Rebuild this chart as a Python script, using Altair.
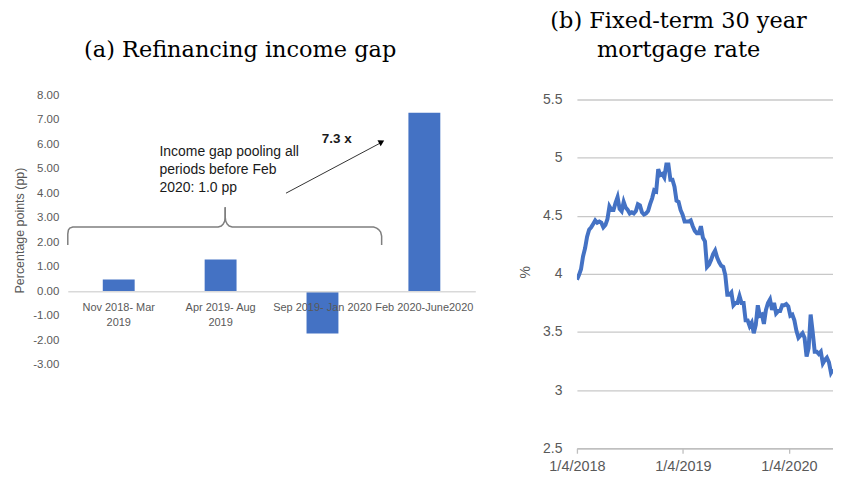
import altair as alt
import pandas as pd

# ---------------- data ----------------
periods = ["Nov 2018- Mar\n2019", "Apr 2019- Aug\n2019", "Sep 2019- Jan 2020", "Feb 2020-June2020"]
gap_pp = [0.48, 1.30, -1.73, 7.30]
gap_ticks = [-3, -2, -1, 0, 1, 2, 3, 4, 5, 6, 7, 8]

first_week = "2018-01-04"
rate_2018 = [3.95, 3.99, 4.04, 4.15, 4.22, 4.32, 4.38, 4.40, 4.43, 4.46, 4.44, 4.45, 4.44,
             4.40, 4.42, 4.47, 4.58, 4.55, 4.55, 4.61, 4.66, 4.56, 4.54, 4.62, 4.57, 4.55,
             4.52, 4.53, 4.52, 4.54, 4.60, 4.59, 4.53, 4.51, 4.52, 4.54, 4.60, 4.65, 4.72,
             4.71, 4.90, 4.85, 4.86, 4.83, 4.94, 4.94, 4.81, 4.81, 4.75, 4.63, 4.62, 4.55]
rate_2019 = [4.51, 4.45, 4.45, 4.45, 4.46, 4.41, 4.37, 4.35, 4.35, 4.41, 4.31, 4.28, 4.06,
             4.08, 4.12, 4.17, 4.20, 4.14, 4.10, 4.07, 4.06, 3.99, 3.82, 3.82, 3.84, 3.73,
             3.75, 3.75, 3.81, 3.75, 3.75, 3.60, 3.60, 3.55, 3.58, 3.49, 3.56, 3.73, 3.64,
             3.65, 3.57, 3.69, 3.75, 3.78, 3.69, 3.75, 3.66, 3.68, 3.68, 3.73, 3.73, 3.74]
rate_2020 = [3.72, 3.64, 3.65, 3.60, 3.51, 3.45, 3.47, 3.49, 3.45, 3.29, 3.36, 3.65, 3.50,
             3.33, 3.33, 3.31, 3.33, 3.23, 3.26, 3.28, 3.24, 3.15, 3.18]
rate_ticks = [2.5, 3, 3.5, 4, 4.5, 5, 5.5]
date_ticks = [(2018, 1, 4), (2019, 1, 4), (2020, 1, 4)]

rates = rate_2018 + rate_2019 + rate_2020
dates = pd.date_range(first_week, periods=len(rates), freq="7D").strftime("%Y-%m-%d")

bar_df = pd.DataFrame({"period": periods, "gap": gap_pp})
rate_df = pd.DataFrame({"date": list(dates), "rate": rates})
one = pd.DataFrame({"k": [0]})

# annotation geometry (pixels, relative to the left plot area)
brace_pts = [
    (0, 150), (0, 139), (0.6, 135), (2, 133), (5, 132), (151, 132), (154, 131), (156, 129),
    (157.5, 126), (158, 122), (158, 112),
    (158, 112), (158, 122), (158.5, 126), (160, 129), (162, 131), (165, 132), (307, 132),
    (310, 133), (312, 134.5), (314, 137), (315, 141), (315, 150),
]
brace_df = pd.DataFrame({
    "px": [p[0] for p in brace_pts],
    "py": [p[1] for p in brace_pts],
    "o": list(range(len(brace_pts))),
    "seg": [0] * 11 + [1] * 12,
})

BLUE = "#4472C4"
GRAY = "#595959"
SANS = "Liberation Sans"
SERIF = "DejaVu Serif"

# ---------------- left panel ----------------
bars = alt.Chart(bar_df).mark_bar(color=BLUE).encode(
    x=alt.X("period:N", sort=periods,
            scale=alt.Scale(paddingInner=0.687, paddingOuter=0.3435),
            axis=alt.Axis(title=None, orient="bottom", offset=-73.6, domainColor="#D9D9D9",
                          domainWidth=1.5, ticks=False, labelAngle=0, labelFont=SANS,
                          labelFontSize=11, labelColor=GRAY, labelPadding=10,
                          labelLineHeight=15, labelExpr="split(datum.label, '\\n')",
                          labelOverlap=False, zindex=1)),
    y=alt.Y("gap:Q", scale=alt.Scale(domain=[-3, 8], nice=False, zero=False),
            axis=alt.Axis(values=gap_ticks, grid=False, domain=False, ticks=False,
                          labelExpr="(datum.value < 0 ? '-' : '') + format(abs(datum.value), '.2f')",
                          labelFont=SANS, labelFontSize=11.5, labelColor=GRAY, labelPadding=9,
                          title="Percentage points (pp)", titleFont=SANS, titleFontSize=12.5,
                          titleFontWeight="normal", titleColor=GRAY, titlePadding=6)),
)

brace = alt.Chart(brace_df).mark_line(color="#7F7F7F", strokeWidth=1.5).encode(
    x=alt.X("px:Q", scale=None, axis=None),
    y=alt.Y("py:Q", scale=None, axis=None),
    detail="seg:N",
    order="o:Q",
)

note = alt.Chart(one).mark_text(
    text=["Income gap pooling all", "periods before Feb", "2020: 1.0 pp"],
    font=SANS, fontSize=14, color="#1a1a1a", align="left", baseline="alphabetic", lineHeight=18,
).encode(x=alt.value(92), y=alt.value(61))

mult = alt.Chart(one).mark_text(
    text="7.3 x", font=SANS, fontSize=13.5, fontWeight="bold", color="#1a1a1a",
    align="left", baseline="alphabetic",
).encode(x=alt.value(255), y=alt.value(48))

arrow = alt.Chart(one).mark_rule(color="#333333", strokeWidth=1).encode(
    x=alt.value(219), y=alt.value(98), x2=alt.value(314), y2=alt.value(47.5))

head = alt.Chart(one).mark_point(shape="triangle-right", filled=True, size=45, angle=332,
                                 color="#000000", opacity=1).encode(
    x=alt.value(315), y=alt.value(46.5))

title_a = alt.Chart(one).mark_text(
    text="(a) Refinancing income gap", font=SERIF, fontSize=22.5, color="#000000",
    align="center", baseline="alphabetic",
).encode(x=alt.value(173), y=alt.value(-39))

left = alt.layer(bars, brace, note, mult, arrow, head, title_a).resolve_scale(
    x="independent", y="independent").properties(width=409, height=270)

# ---------------- right panel ----------------
line = alt.Chart(rate_df).mark_line(color=BLUE, strokeWidth=4, clip=True).encode(
    x=alt.X("date:T",
            scale=alt.Scale(type="utc", domain=[alt.DateTime(year=2018, month=1, date=4, utc=True),
                                                 alt.DateTime(year=2020, month=6, date=4, utc=True)]),
            axis=alt.Axis(values=[alt.DateTime(year=y, month=m, date=d, utc=True) for y, m, d in date_ticks],
                          format="%-m/%-d/%Y", grid=False, domainColor="#BFBFBF", domainWidth=1.3,
                          tickColor="#BFBFBF", tickSize=5, tickWidth=1.3, labelFont=SANS,
                          labelFontSize=14.5, labelColor=GRAY, labelPadding=6, title=None,
                          labelOverlap=False, labelFlush=False)),
    y=alt.Y("rate:Q", scale=alt.Scale(domain=[2.5, 5.534], nice=False, zero=False),
            axis=alt.Axis(values=rate_ticks, grid=True, gridColor="#C8C8C8", gridWidth=1.3,
                          domain=False, ticks=False, labelFont=SANS, labelFontSize=14,
                          labelColor=GRAY, labelPadding=15, labelExpr="toString(datum.value)",
                          title="%", titleFont=SANS, titleFontSize=14, titleFontWeight="normal",
                          titleColor=GRAY, titlePadding=10)),
)

title_b = alt.Chart(one).mark_text(
    text=["(b) Fixed-term 30 year", "mortgage rate"], font=SERIF, fontSize=22.5,
    color="#000000", align="center", baseline="alphabetic", lineHeight=29,
).encode(x=alt.value(102), y=alt.value(-68))

right = alt.layer(line, title_b).properties(width=257, height=354)

chart = alt.hconcat(left, right, spacing=102, bounds="flush").properties(
    padding={"left": 5, "top": 1, "right": 0, "bottom": 5},
    background="white",
).configure_view(stroke=None)

chart.save("out.html", embed_options={"renderer": "svg", "actions": False})
